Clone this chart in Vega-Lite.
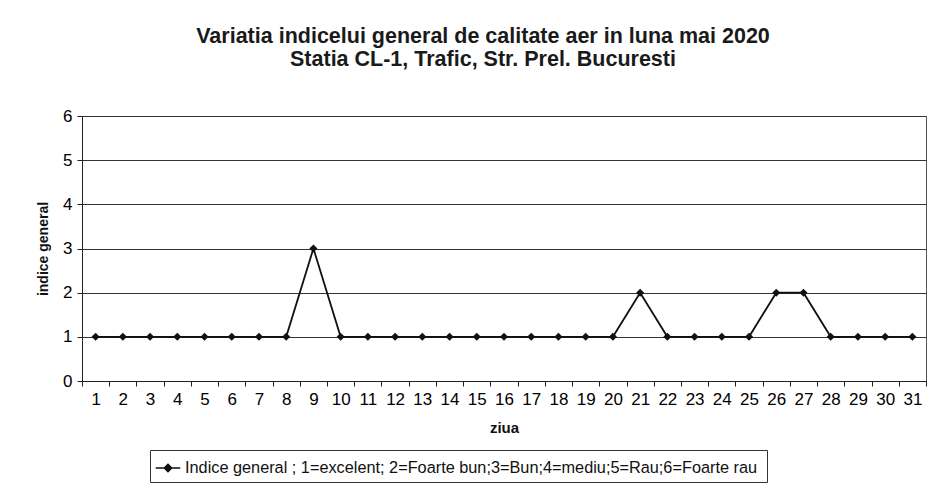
{
  "$schema": "https://vega.github.io/schema/vega-lite/v6.json",
  "width": 844,
  "height": 265,
  "autosize": {"type": "none"},
  "padding": {"left": 82, "top": 116, "right": 9, "bottom": 112},
  "background": "white",
  "title": {
    "text": ["Variatia indicelui general de calitate aer in luna mai 2020", "Statia CL-1, Trafic, Str. Prel. Bucuresti"],
    "font": "Liberation Sans",
    "fontSize": 21.5,
    "fontWeight": "bold",
    "color": "#1a1a1a",
    "anchor": "middle",
    "dx": -21,
    "offset": 37,
    "lineHeight": 23
  },
  "config": {
    "view": {"stroke": "#555", "strokeWidth": 1},
    "font": "Liberation Sans",
    "axis": {"domainColor": "#222", "tickColor": "#222", "labelColor": "#000", "titleColor": "#111", "labelFontSize": 17, "titleFontSize": 15}
  },
  "data": {
    "values": [
      {"ziua": 1, "indice": 1}, {"ziua": 2, "indice": 1}, {"ziua": 3, "indice": 1}, {"ziua": 4, "indice": 1},
      {"ziua": 5, "indice": 1}, {"ziua": 6, "indice": 1}, {"ziua": 7, "indice": 1}, {"ziua": 8, "indice": 1},
      {"ziua": 9, "indice": 3}, {"ziua": 10, "indice": 1}, {"ziua": 11, "indice": 1}, {"ziua": 12, "indice": 1},
      {"ziua": 13, "indice": 1}, {"ziua": 14, "indice": 1}, {"ziua": 15, "indice": 1}, {"ziua": 16, "indice": 1},
      {"ziua": 17, "indice": 1}, {"ziua": 18, "indice": 1}, {"ziua": 19, "indice": 1}, {"ziua": 20, "indice": 1},
      {"ziua": 21, "indice": 2}, {"ziua": 22, "indice": 1}, {"ziua": 23, "indice": 1}, {"ziua": 24, "indice": 1},
      {"ziua": 25, "indice": 1}, {"ziua": 26, "indice": 2}, {"ziua": 27, "indice": 2}, {"ziua": 28, "indice": 1},
      {"ziua": 29, "indice": 1}, {"ziua": 30, "indice": 1}, {"ziua": 31, "indice": 1}
    ]
  },
  "encoding": {
    "x": {
      "field": "ziua", "type": "ordinal",
      "scale": {"type": "band", "paddingInner": 0, "paddingOuter": 0},
      "axis": {
        "title": "ziua", "labelAngle": 0, "tickBand": "extent", "tickSize": 5,
        "labelFontSize": 17, "labelPadding": 5, "titleFontSize": 15, "titleFontWeight": "bold", "titlePadding": 13,
        "grid": false
      }
    },
    "y": {
      "field": "indice", "type": "quantitative",
      "scale": {"domain": [0, 6]},
      "axis": {
        "title": "indice general", "values": [0, 1, 2, 3, 4, 5, 6], "tickSize": 5,
        "labelFontSize": 17, "labelPadding": 5, "titleFontSize": 14, "titleFontWeight": "bold", "titlePadding": 12,
        "grid": true, "gridColor": "#333", "gridOpacity": 1, "gridWidth": 1
      }
    },
    "color": {
      "datum": "Indice  general ; 1=excelent; 2=Foarte bun;3=Bun;4=mediu;5=Rau;6=Foarte rau",
      "type": "nominal",
      "scale": {"range": ["#111"]},
      "legend": {
        "title": null, "orient": "none", "legendX": 68, "legendY": 334,
        "strokeColor": "#333", "padding": 5,
        "labelFontSize": 16.3, "labelColor": "#111", "labelLimit": 900, "labelOffset": 4,
        "symbolType": "M-1,0L1,0M0,-0.3L0.3,0L0,0.3L-0.3,0Z",
        "symbolSize": 600, "symbolStrokeWidth": 1.5, "symbolFillColor": "#111", "symbolStrokeColor": "#111"
      }
    }
  },
  "layer": [
    {"mark": {"type": "line", "strokeWidth": 1.8}},
    {"mark": {"type": "point", "shape": "diamond", "filled": true, "size": 65, "opacity": 1}}
  ]
}
